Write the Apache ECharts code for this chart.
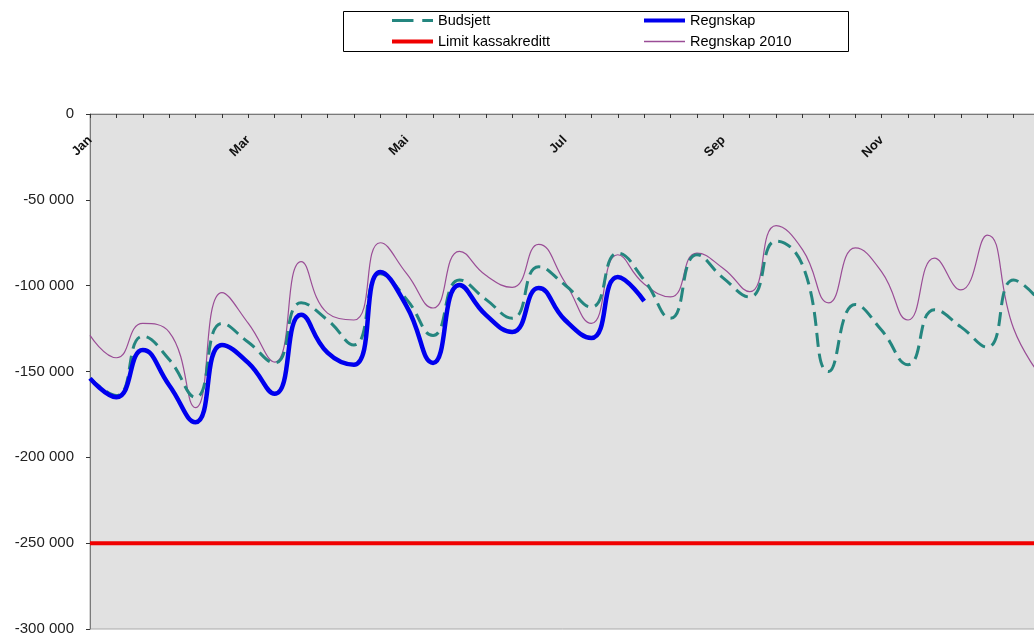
<!DOCTYPE html>
<html>
<head>
<meta charset="utf-8">
<script src="https://cdn.jsdelivr.net/npm/echarts@6/dist/echarts.min.js"></script>
<style>html,body{margin:0;padding:0;background:#fff;}#c{width:1034px;height:634px;}</style>
</head>
<body>
<div id="c"></div>
<script>
// Periods: 3 per month (Jan .. Des) plus year end
var categories = ['Jan','','','Feb','','','Mar','','','Apr','','','Mai','','','Jun','','',
                  'Jul','','','Aug','','','Sep','','','Okt','','','Nov','','','Des','','',''];
var budsjett = [-154000,-164000,-129500,-143000,-165000,-122000,-133000,-145000,-110000,-120000,
                -134600,-93000,-108000,-129000,-96700,-108000,-119000,-89000,-99600,-112500,
                -81000,-96700,-119000,-82000,-95600,-106600,-74000,-88000,-150000,-111000,
                -126000,-146000,-114000,-124000,-135800,-96700,-109000];
var regnskap = [-154000,-165000,-137500,-158000,-179500,-134500,-145000,-163000,-117000,-139000,
                -146000,-92000,-112000,-145000,-99600,-117000,-127000,-101400,-120000,-130500,
                -95000,-109000];
var regnskap2010 = [-129000,-142000,-122000,-127000,-171000,-104000,-122000,-144500,-86000,-116000,
                    -120000,-75000,-93000,-113000,-80000,-94000,-101000,-76000,-98000,-122000,
                    -82000,-99000,-106500,-81000,-90000,-103500,-65000,-79000,-110000,-78000,
                    -92000,-120000,-84000,-102500,-70500,-125000,-152000];
var limitValue = -250000;
var limit = categories.map(function(){ return limitValue; });
var yTicks = { min: -300000, max: 0, interval: 50000 };

var FONT = '"Liberation Sans", Arial, sans-serif';
var SMOOTH = 0.5;
function fmt(v){
  if (v === 0) return '0';
  var s = Math.abs(v).toString().replace(/\B(?=(\d{3})+(?!\d))/g, ' ');
  return (v < 0 ? '-' : '') + s;
}
var chart = echarts.init(document.getElementById('c'), null, {renderer:'canvas'});
var legendText = { fontFamily: FONT, fontSize: 14.5, color: '#000' };
function leg(name, left, top, icon, h, color) {
  return {
    data: [name], left: left, top: top, padding: 0,
    icon: icon, itemWidth: 41, itemHeight: h, selectedMode: false,
    itemStyle: { color: color, borderWidth: 0 }, lineStyle: { width: 0 },
    textStyle: legendText
  };
}
chart.setOption({
  animation: false,
  backgroundColor: '#fff',
  graphic: [{
    type: 'rect', left: 343, top: 11, z: 0,
    shape: { width: 505, height: 40 },
    style: { fill: '#fff', stroke: '#000', lineWidth: 1 }
  }],
  legend: [
    leg('Budsjett', 392, 13, 'path://M0,0h22v3h-22z M31,0h11v3h-11z', 3, '#24867F'),
    leg('Regnskap', 644, 13, 'rect', 4, '#0000EE'),
    leg('Limit kassakreditt', 392, 34, 'rect', 4, '#F00000'),
    leg('Regnskap 2010', 644, 34, 'rect', 1.5, '#9A4D96')
  ],
  grid: {
    left: 90, right: -6, top: 114, bottom: 5,
    containLabel: false, outerBoundsMode: 'none',
    show: true, backgroundColor: '#E1E1E1', borderColor: '#A8A8A8', borderWidth: 1
  },
  xAxis: {
    type: 'category', data: categories, boundaryGap: false, position: 'top',
    axisLine: { onZero: false, lineStyle: { color: '#7A7A7A', width: 1 } },
    axisTick: { show: true, inside: true, interval: 0, length: 4, lineStyle: { color: '#333' } },
    axisLabel: { inside: true, interval: 5, rotate: -45, align: 'right', verticalAlign: 'middle',
                 margin: 24, fontFamily: FONT, fontSize: 13, fontWeight: 'bold', color: '#111' },
    splitLine: { show: false }
  },
  yAxis: {
    type: 'value', min: yTicks.min, max: yTicks.max, interval: yTicks.interval,
    axisLine: { show: true, lineStyle: { color: '#7A7A7A', width: 1 } },
    axisTick: { show: true, length: 4, lineStyle: { color: '#333' } },
    axisLabel: { formatter: fmt, margin: 16, fontFamily: FONT, fontSize: 15, color: '#222' },
    splitLine: { show: false }
  },
  series: [
    { name: 'Regnskap 2010', type: 'line', data: regnskap2010, smooth: SMOOTH, symbol: 'none',
      lineStyle: { color: '#9A4D96', width: 1.2 }, itemStyle: { color: '#9A4D96' }, z: 2 },
    { name: 'Budsjett', type: 'line', data: budsjett, smooth: SMOOTH, symbol: 'none',
      lineStyle: { color: '#24867F', width: 3, type: [14, 7] }, itemStyle: { color: '#24867F' }, z: 3 },
    { name: 'Regnskap', type: 'line', data: regnskap, smooth: SMOOTH, symbol: 'none',
      lineStyle: { color: '#0000EE', width: 4.5 }, itemStyle: { color: '#0000EE' }, z: 4 },
    { name: 'Limit kassakreditt', type: 'line', data: limit, symbol: 'none',
      lineStyle: { color: '#F00000', width: 4 }, itemStyle: { color: '#F00000' }, z: 5 }
  ]
});
</script>
</body>
</html>
